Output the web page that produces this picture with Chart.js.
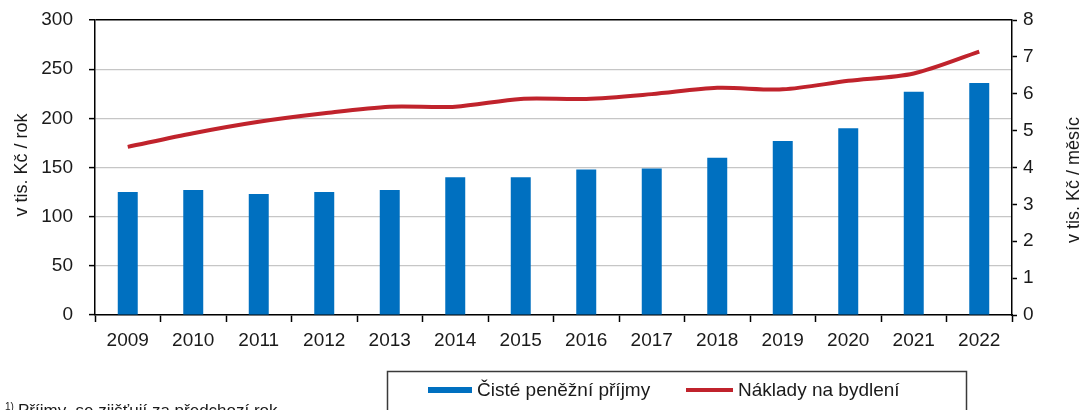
<!DOCTYPE html>
<html>
<head>
<meta charset="utf-8">
<script src="https://cdn.jsdelivr.net/npm/chart.js@4.4.1/dist/chart.umd.min.js"></script>
<style>
  html, body { margin: 0; padding: 0; background: #fff; }
  #wrap { width: 1086px; height: 410px; }
</style>
</head>
<body>
<div id="wrap"><canvas id="c" width="1086" height="410"></canvas></div>
<script>
const categories = ["2009","2010","2011","2012","2013","2014","2015","2016","2017","2018","2019","2020","2021","2022"];
const incomeValues = [125, 127, 123, 125, 127, 140, 140, 148, 149, 160, 177, 190, 227, 236];
const housingValues = [4.56, 4.93, 5.24, 5.47, 5.65, 5.65, 5.86, 5.86, 5.99, 6.16, 6.12, 6.35, 6.55, 7.14];
const leftTicks = [0, 50, 100, 150, 200, 250, 300];
const rightTicks = [0, 1, 2, 3, 4, 5, 6, 7, 8];
const incomeLabel = "Čisté peněžní příjmy";
const housingLabel = "Náklady na bydlení";
const leftTitle = "v tis. Kč / rok";
const rightTitle = "v tis. Kč / měsíc";
const footnote = "Příjmy  se zjišťují za předchozí rok";

const FONT = "'Liberation Sans', Arial, sans-serif";
const BLUE = "#0070C0";
const RED = "#C0232C";
const TXT = "#1a1a1a";

const extras = {
  id: 'extras',
  afterDraw(chart) {
    const ctx = chart.ctx;
    ctx.save();
    // axis titles
    ctx.fillStyle = TXT;
    ctx.font = "18px " + FONT;
    ctx.textAlign = 'center';
    ctx.textBaseline = 'middle';
    ctx.save();
    ctx.translate(22, 165);
    ctx.rotate(-Math.PI / 2);
    ctx.fillText(leftTitle, 0, 0);
    ctx.restore();
    ctx.save();
    ctx.translate(1074, 180);
    ctx.rotate(-Math.PI / 2);
    ctx.fillText(rightTitle, 0, 0);
    ctx.restore();

    // legend box
    ctx.strokeStyle = '#3a3a3a';
    ctx.lineWidth = 1.5;
    ctx.strokeRect(387.5, 371.5, 579, 60);
    ctx.fillStyle = BLUE;
    ctx.fillRect(428, 387, 44, 6);
    ctx.strokeStyle = RED;
    ctx.lineWidth = 4;
    ctx.beginPath();
    ctx.moveTo(686, 390);
    ctx.lineTo(733, 390);
    ctx.stroke();
    ctx.fillStyle = TXT;
    ctx.font = "19px " + FONT;
    ctx.textAlign = 'left';
    ctx.textBaseline = 'middle';
    ctx.fillText(incomeLabel, 477, 391);
    ctx.fillText(housingLabel, 738, 391);

    // footnote
    ctx.font = "10px " + FONT;
    ctx.textBaseline = 'alphabetic';
    ctx.fillText("1)", 5, 410);
    ctx.font = "17px " + FONT;
    ctx.fillText(footnote, 18, 416);
    ctx.restore();
  }
};

function fixV(w) {
  return function (s) { s.width = w; s.paddingTop = 0; s.paddingBottom = 0; };
}

const chart = new Chart(document.getElementById('c'), {
  type: 'bar',
  data: {
    labels: categories,
    datasets: [
      {
        type: 'line',
        label: housingLabel,
        data: housingValues,
        yAxisID: 'y2',
        borderColor: RED,
        backgroundColor: RED,
        borderWidth: 4,
        pointRadius: 0,
        tension: 0.3,
        order: 0
      },
      {
        type: 'bar',
        label: incomeLabel,
        data: incomeValues,
        yAxisID: 'y',
        backgroundColor: BLUE,
        barPercentage: 0.305,
        categoryPercentage: 1.0,
        order: 1
      }
    ]
  },
  options: {
    responsive: false,
    animation: false,
    devicePixelRatio: 1,
    layout: { padding: { top: 20, bottom: 50, left: 0, right: 0 } },
    plugins: {
      legend: { display: false },
      tooltip: { enabled: false }
    },
    scales: {
      x: {
        offset: true,
        grid: {
          display: true,
          offset: true,
          drawOnChartArea: false,
          drawTicks: true,
          tickLength: 7,
          tickColor: '#000',
          tickWidth: 1.5
        },
        border: { color: '#000', width: 1.5 },
        ticks: { font: { family: FONT, size: 19 }, color: TXT, padding: 7, maxRotation: 0 },
        afterFit(s) { s.height = 45; s.paddingLeft = 0; s.paddingRight = 0; }
      },
      y: {
        position: 'left',
        min: 0,
        max: 300,
        afterBuildTicks(s) { s.ticks = leftTicks.map(v => ({ value: v })); },
        grid: {
          color: (c) => (c.tick && c.tick.value === 300) ? '#000' : '#c6c6c6',
          lineWidth: (c) => (c.tick && c.tick.value === 300) ? 1.5 : 1.2,
          tickColor: '#000',
          tickLength: 6,
          tickWidth: 1.5
        },
        border: { color: '#000', width: 1.5 },
        ticks: { font: { family: FONT, size: 19 }, color: TXT, padding: 16 },
        afterFit: fixV(95)
      },
      y2: {
        position: 'right',
        min: 0,
        max: 8,
        afterBuildTicks(s) { s.ticks = rightTicks.map(v => ({ value: v })); },
        grid: {
          drawOnChartArea: false,
          tickColor: '#000',
          tickLength: 5,
          tickWidth: 1.5
        },
        border: { color: '#000', width: 1.5 },
        ticks: { font: { family: FONT, size: 19 }, color: TXT, padding: 6 },
        afterFit: fixV(74)
      }
    }
  },
  plugins: [extras]
});
</script>
</body>
</html>
